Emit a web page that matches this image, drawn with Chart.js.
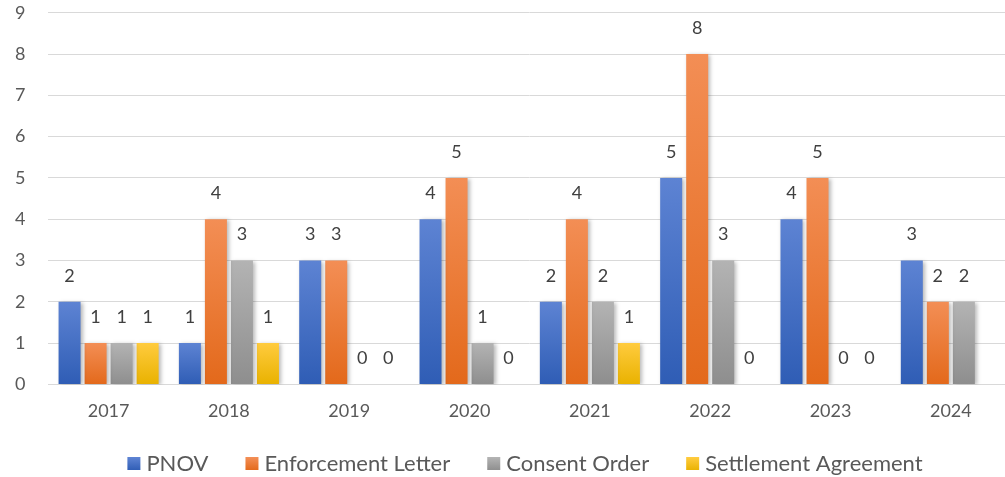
<!DOCTYPE html>
<html>
<head>
<meta charset="utf-8">
<script src="https://cdn.jsdelivr.net/npm/chart.js@4.4.1/dist/chart.umd.min.js"></script>
<style>
  html, body { margin: 0; padding: 0; background: #fff; overflow: hidden; }
  #wrap { position: relative; width: 1011px; height: 477px; }
</style>
</head>
<body>
<div id="wrap"><canvas id="c"></canvas></div>
<script>
const categories = ["2017", "2018", "2019", "2020", "2021", "2022", "2023", "2024"];
const pnov = [2, 1, 3, 4, 2, 5, 4, 3];
const enforcementLetter = [1, 4, 3, 5, 4, 8, 5, 2];
const consentOrder = [1, 3, 0, 1, 2, 3, 0, 2];
const settlementAgreement = [1, 1, 0, 0, 1, 0, 0, null];
const yTicks = [0, 1, 2, 3, 4, 5, 6, 7, 8, 9];

const FONT = 'Lato, "Open Sans", sans-serif';

const palette = {
  "PNOV": ["#5d83d3", "#2f5db5", "#4472C4"],
  "Enforcement Letter": ["#f38e55", "#e3691b", "#ED7D31"],
  "Consent Order": ["#b3b3b3", "#8e8e8e", "#A5A5A5"],
  "Settlement Agreement": ["#ffcb3e", "#e9b200", "#FFC000"]
};

function gradFill(ctx) {
  const chart = ctx.chart;
  const ds = chart.data.datasets[ctx.datasetIndex];
  const cols = palette[ds.label];
  if (!chart.chartArea || ctx.type !== 'data') return cols[2];
  const v = ds.data[ctx.dataIndex];
  if (v == null) return cols[2];
  const ys = chart.scales.y;
  const top = ys.getPixelForValue(v);
  const bot = ys.getPixelForValue(0);
  if (Math.abs(bot - top) < 1) return cols[2];
  const g = chart.ctx.createLinearGradient(0, top, 0, bot);
  g.addColorStop(0, cols[0]);
  g.addColorStop(1, cols[1]);
  return g;
}

const labelPlugin = {
  id: 'valueLabels',
  afterDatasetsDraw(chart) {
    const ctx = chart.ctx;
    ctx.save();
    ctx.shadowColor = 'transparent';
    ctx.font = '18px ' + FONT;
    ctx.fillStyle = '#404040';
    ctx.textAlign = 'center';
    ctx.textBaseline = 'middle';
    chart.data.datasets.forEach((ds, di) => {
      const meta = chart.getDatasetMeta(di);
      meta.data.forEach((bar, i) => {
        const v = ds.data[i];
        if (v == null) return;
        ctx.fillText(String(v), bar.x, bar.y - 26);
      });
    });
    ctx.restore();
  }
};

const shadowPlugin = {
  id: 'barShadow',
  beforeDatasetsDraw(chart) {
    const ctx = chart.ctx;
    ctx.save();
    ctx.shadowColor = 'rgba(0,0,0,0.28)';
    ctx.shadowBlur = 4;
    ctx.shadowOffsetX = 2;
    ctx.shadowOffsetY = 1;
  },
  afterDatasetsDraw(chart) {
    chart.ctx.restore();
  }
};

const legendPlugin = {
  id: 'customLegend',
  afterDraw(chart) {
    const ctx = chart.ctx;
    ctx.save();
    ctx.font = '22px ' + FONT;
    ctx.textBaseline = 'middle';
    ctx.textAlign = 'left';
    const box = 13, gapBoxText = 6, gapItems = 37;
    const items = chart.data.datasets.map(ds => ({ text: ds.label, col: palette[ds.label] }));
    let total = 0;
    items.forEach((it, i) => {
      it.w = ctx.measureText(it.text).width;
      total += box + gapBoxText + it.w + (i < items.length - 1 ? gapItems : 0);
    });
    const cx = 525, cy = 464;
    let x = cx - total / 2;
    items.forEach(it => {
      const g = ctx.createLinearGradient(0, cy - box / 2, 0, cy + box / 2);
      g.addColorStop(0, it.col[0]);
      g.addColorStop(1, it.col[1]);
      ctx.fillStyle = g;
      ctx.fillRect(x, cy - box / 2 - 0.5, box, box);
      x += box + gapBoxText;
      ctx.fillStyle = '#595959';
      ctx.fillText(it.text, x, cy);
      x += it.w + gapItems;
    });
    ctx.restore();
  }
};

const mk = (label, data) => ({
  label, data,
  backgroundColor: gradFill,
  borderWidth: 0,
  categoryPercentage: 0.865,
  barPercentage: 0.846
});

new Chart(document.getElementById('c'), {
  type: 'bar',
  data: {
    labels: categories,
    datasets: [
      mk("PNOV", pnov),
      mk("Enforcement Letter", enforcementLetter),
      mk("Consent Order", consentOrder),
      mk("Settlement Agreement", settlementAgreement)
    ]
  },
  options: {
    responsive: true,
    maintainAspectRatio: false,
    animation: false,
    layout: { padding: { left: 13, right: 0, top: 1, bottom: 53 } },
    scales: {
      x: {
        grid: { display: true, drawOnChartArea: false, drawTicks: true, tickLength: 14, color: 'rgba(0,0,0,0)', tickColor: 'rgba(0,0,0,0)' },
        border: { display: true, color: '#d9d9d9', width: 1 },
        ticks: { color: '#595959', font: { size: 18, family: FONT }, padding: 2 }
      },
      y: {
        min: 0, max: 9,
        afterBuildTicks: (axis) => { axis.ticks = yTicks.map(v => ({ value: v })); },
        grid: { color: '#d9d9d9', lineWidth: 1, drawTicks: true, tickLength: 21, tickColor: 'rgba(0,0,0,0)' },
        border: { display: false },
        ticks: { color: '#595959', font: { size: 18, family: FONT }, padding: 2 }
      }
    },
    plugins: {
      legend: { display: false },
      tooltip: { enabled: false }
    }
  },
  plugins: [shadowPlugin, labelPlugin, legendPlugin]
});
</script>
</body>
</html>
